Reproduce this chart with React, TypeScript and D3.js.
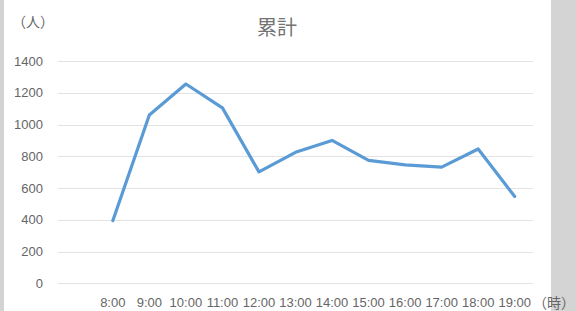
import React from "react";
import * as d3 from "d3";

// 時間帯ごとの累計人数
const hours = ["8:00", "9:00", "10:00", "11:00", "12:00", "13:00", "14:00", "15:00", "16:00", "17:00", "18:00", "19:00"];
const totals = [395, 1060, 1255, 1105, 702, 825, 900, 774, 746, 732, 846, 547];
const yTicks = [0, 200, 400, 600, 800, 1000, 1200, 1400];

const W = 576;
const H = 311;
const margin = { top: 61, right: 43, bottom: 28, left: 58 };
const font = "'Liberation Sans', Arial, sans-serif";
const cjk = "'Noto Sans CJK JP', sans-serif";
const grey = "#666666";

export default function App() {
  const innerW = W - margin.left - margin.right;
  const plotBottom = H - margin.bottom + 0.5;

  // first slot on the axis is empty, like the original sheet
  const x = d3.scaleBand().domain([" ", ...hours]).range([margin.left, margin.left + innerW]);
  const y = d3.scaleLinear().domain([0, 1400]).range([plotBottom - 0.5 + 0.4, margin.top]);

  const line = d3
    .line<number>()
    .x((_, i) => (x(hours[i]) as number) + x.bandwidth() / 2)
    .y((d) => y(d));

  return (
    <svg width={W} height={H} style={{ position: "absolute", left: 0, top: 0, background: "#fff" }}>
      <rect x={0} y={0} width={4} height={H} fill="#d3d3d3" />
      <rect x={551} y={0} width={W - 551} height={H} fill="#d4d4d4" />

      <text x={277} y={35} textAnchor="middle" fontFamily={cjk} fontSize={20} fill="#737373">
        累計
      </text>
      <text x={12} y={27} fontFamily={cjk} fontSize={14} fill={grey}>
        （人）
      </text>

      {yTicks.map((t) => (
        <g key={t}>
          <line x1={margin.left} x2={margin.left + innerW} y1={Math.round(y(t)) + 0.5} y2={Math.round(y(t)) + 0.5} stroke="#e3e3e3" strokeWidth={1.2} />
          <text x={43} y={y(t)} dy="0.35em" textAnchor="end" fontFamily={font} fontSize={13} fill={grey}>
            {t}
          </text>
        </g>
      ))}

      {hours.map((h) => (
        <text key={h} x={(x(h) as number) + x.bandwidth() / 2} y={307} textAnchor="middle" fontFamily={font} fontSize={13} fill={grey}>
          {h}
        </text>
      ))}
      <text x={533} y={308} fontFamily={cjk} fontSize={14} fill={grey}>
        （時）
      </text>

      <path d={line(totals) ?? ""} fill="none" stroke="#5b9bd5" strokeWidth={3.2} strokeLinejoin="round" strokeLinecap="round" />
    </svg>
  );
}
